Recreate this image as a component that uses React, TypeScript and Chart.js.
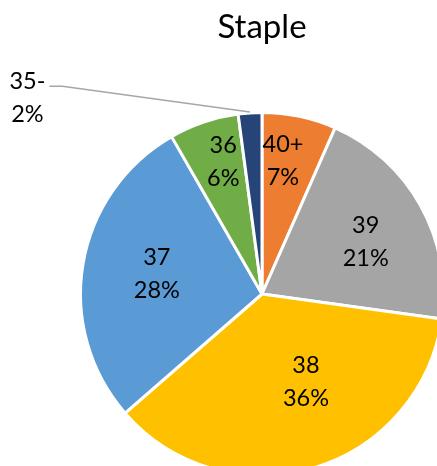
import React, { useEffect, useRef } from "react";
import { Chart, registerables } from "chart.js";

Chart.register(...registerables);

const chartTitle = "Staple";
const categories = ["40+", "39", "38", "37", "36", "35-"];
const values = [6.6, 20.6, 36.4, 28.1, 6.2, 2.1];
const colors = ["#ED7D31", "#A5A5A5", "#FFC000", "#5B9BD5", "#70AD47", "#264478"];

// label placement (style only): angle shift from slice mid-angle (deg) and radius fraction
const labelAngleShift = [-2.9, 2.4, -10.1, 1.3, 2.4, -46.3];
const labelRadiusFrac = [0.74, 0.64, 0.54, 0.59, 0.76, 1.685];
const labelOutside = [false, false, false, false, false, true];

const FONT = "Lato, 'Open Sans', sans-serif";

const labelPlugin = {
  id: "sliceLabels",
  afterDatasetsDraw(chart: any) {
    const ctx = chart.ctx;
    const meta = chart.getDatasetMeta(0);
    const total = values.reduce((a, b) => a + b, 0);
    ctx.save();
    ctx.font = `23.5px ${FONT}`;
    ctx.fillStyle = "#000000";
    ctx.textAlign = "center";
    ctx.textBaseline = "middle";
    meta.data.forEach((arc: any, i: number) => {
      const p = arc.getProps(["x", "y", "startAngle", "endAngle", "outerRadius"], true);
      const baseMid = (p.startAngle + p.endAngle) / 2;
      const mid = baseMid + (labelAngleShift[i] * Math.PI) / 180;
      const r = p.outerRadius * labelRadiusFrac[i];
      const lx = p.x + Math.cos(mid) * r;
      const ly = p.y + Math.sin(mid) * r;
      const pct = Math.round((values[i] / total) * 100) + "%";
      if (labelOutside[i]) {
        const sx = lx + 22;
        const sy = ly - 11.5;
        const ex = p.x + Math.cos(baseMid) * (p.outerRadius + 1);
        const ey = p.y + Math.sin(baseMid) * (p.outerRadius + 1);
        ctx.beginPath();
        ctx.strokeStyle = "#A6A6A6";
        ctx.lineWidth = 1.5;
        ctx.moveTo(sx, sy);
        ctx.lineTo(sx + 13, sy);
        ctx.lineTo(ex, ey);
        ctx.stroke();
      }
      ctx.fillText(categories[i], lx, ly - 16.5);
      ctx.fillText(pct, lx, ly + 16.5);
    });
    ctx.restore();
  },
};

export default function App() {
  const ref = useRef<HTMLCanvasElement | null>(null);
  useEffect(() => {
    if (!ref.current) return;
    const chart = new Chart(ref.current, {
      type: "pie",
      data: {
        labels: categories,
        datasets: [
          {
            data: values,
            backgroundColor: colors,
            borderColor: "#FFFFFF",
            borderWidth: 3,
          },
        ],
      },
      options: {
        responsive: false,
        animation: false,
        devicePixelRatio: 1,
        layout: { padding: 0 },
        plugins: {
          legend: { display: false },
          tooltip: { enabled: false },
          title: {
            display: true,
            text: chartTitle,
            color: "#000000",
            font: { family: FONT, size: 33, weight: "normal", lineHeight: 1.2 },
            padding: { top: 7.2, bottom: 64.2 },
          },
        },
      },
      plugins: [labelPlugin],
    });
    return () => chart.destroy();
  }, []);
  return (
    <div
      style={{
        position: "absolute",
        left: 0,
        top: 0,
        width: 437,
        height: 466,
        overflow: "hidden",
        background: "#FFFFFF",
      }}
    >
      <canvas
        ref={ref}
        width={524}
        height={477}
        style={{ position: "absolute", left: 0, top: 0, width: 524, height: 477 }}
      />
    </div>
  );
}
